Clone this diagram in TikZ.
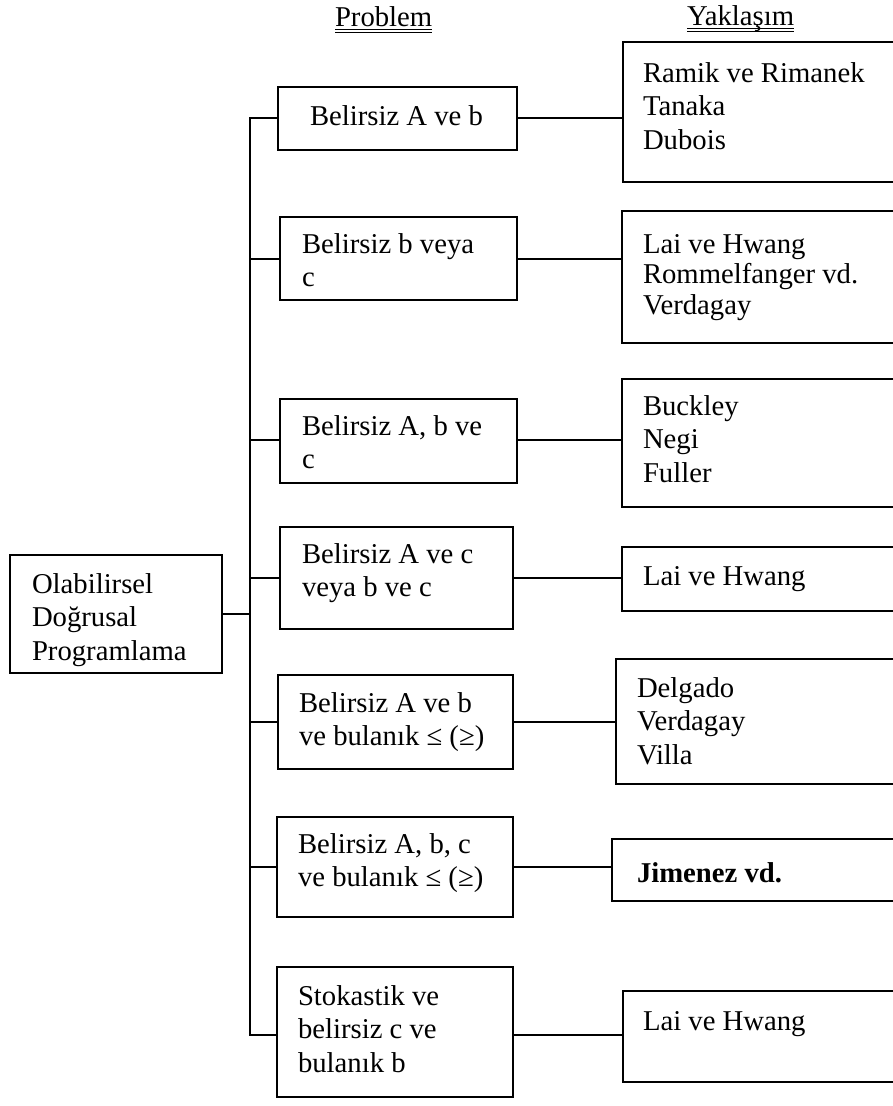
\documentclass[tikz,border=0pt]{standalone}
\usepackage{fontspec}
\setmainfont{Liberation Serif}
\usetikzlibrary{calc}
% several lines of text, baseline on the first line
\newcommand\txtlines[1]{\begin{tabular}[t]{@{}l@{}}#1\end{tabular}}
\begin{document}
\begin{tikzpicture}[x=1pt,y=-1pt,
  box/.style={draw, line width=2pt, inner sep=0pt, outer sep=0pt},
  txt/.style={anchor=base west, inner sep=0pt, outer sep=0pt,
    font=\fontsize{28.7}{33.5}\selectfont},
  wire/.style={line width=2pt},
  bus/.style={line width=2.8pt},
  uline/.style={line width=1pt}]
\useasboundingbox (0,0) rectangle (893,1106);
\clip (0,0) rectangle (893,1106);

% column headings
\node[txt] (hp) at (335,26) {Problem};
\node[txt] (hy) at (687,25) {Yaklaşım};
\foreach \h in {hp,hy}{
  \draw[uline] ($(\h.base west)+(0,3.3)$) -- ($(\h.base east)+(0,3.3)$);
  \draw[uline] ($(\h.base west)+(0,6.2)$) -- ($(\h.base east)+(0,6.2)$);
}

% root box
\node[box, minimum width=212, minimum height=118] (root) at (116,614) {};
\node[txt] (troot) at (32,593) {\txtlines{Olabilirsel\\ Doğrusal\\ Programlama}};

% problem boxes
\node[box, minimum width=239, minimum height=63]  (p1) at (397.5,118.5) {};
\node[box, minimum width=237, minimum height=83]  (p2) at (398.5,258.5) {};
\node[box, minimum width=237, minimum height=84]  (p3) at (398.5,441) {};
\node[box, minimum width=233, minimum height=102] (p4) at (396.5,578) {};
\node[box, minimum width=235, minimum height=94]  (p5) at (395.5,722) {};
\node[box, minimum width=236, minimum height=100] (p6) at (395,867) {};
\node[box, minimum width=236, minimum height=130] (p7) at (395,1032) {};

\node[txt] (t1) at (310,125) {Belirsiz A ve b};
\node[txt] (t2) at (302,253) {\txtlines{Belirsiz b veya\\ c}};
\node[txt] (t3) at (302,435) {\txtlines{Belirsiz A, b ve\\ c}};
\node[txt] (t4) at (302,563) {\txtlines{Belirsiz A ve c\\ veya b ve c}};
\node[txt] (t5) at (299,712) {\txtlines{Belirsiz A ve b\\ ve bulanık ≤ (≥)}};
\node[txt] (t6) at (298,853) {\txtlines{Belirsiz A, b, c\\ ve bulanık ≤ (≥)}};
\node[txt] (t7) at (298,1005) {\txtlines{Stokastik ve\\ belirsiz c ve\\ bulanık b}};

% approach boxes (running off the right edge)
\node[box, minimum width=287, minimum height=140] (r1) at (766.5,112) {};
\node[box, minimum width=288, minimum height=132] (r2) at (766,277) {};
\node[box, minimum width=288, minimum height=128] (r3) at (766,443) {};
\node[box, minimum width=288, minimum height=64]  (r4) at (766,579) {};
\node[box, minimum width=294, minimum height=125] (r5) at (763,721.5) {};
\node[box, minimum width=298, minimum height=62]  (r6) at (761,870) {};
\node[box, minimum width=287, minimum height=91]  (r7) at (766.5,1036.5) {};

\node[txt] (s1) at (643,82) {\txtlines{Ramik ve Rimanek\\ Tanaka\\ Dubois}};
\node[txt] (s2) at (643,253) {\fontsize{28.7}{30.7}\selectfont\txtlines{Lai ve Hwang\\ Rommelfanger vd.\\ Verdagay}};
\node[txt] (s3) at (643,415) {\txtlines{Buckley\\ Negi\\ Fuller}};
\node[txt] (s4) at (643,585) {Lai ve Hwang};
\node[txt] (s5) at (637,697) {\txtlines{Delgado\\ Verdagay\\ Villa}};
\node[txt] (s6) at (637,882) {\bfseries Jimenez vd.};
\node[txt] (s7) at (643,1030) {Lai ve Hwang};

% branch points on the bus
\coordinate (b1) at (250,118);
\coordinate (b2) at (250,259);
\coordinate (b3) at (250,440);
\coordinate (b4) at (250,578);
\coordinate (b5) at (250,722);
\coordinate (b6) at (250,867);
\coordinate (b7) at (250,1035);

% bus and branches
\draw[wire] (p1.west |- b1) -- (b1) -- (b7) -- (p7.west |- b7);
\draw[bus] (b1) -- (b7);
\draw[bus] (root.east) -- (root.east -| b1);
\foreach \i in {2,...,6}{
  \draw[wire] (b\i) -- (p\i.west |- b\i);
}
% problem to approach links
\foreach \i in {1,...,7}{
  \draw[wire] (p\i.east |- b\i) -- (r\i.west |- b\i);
}
\end{tikzpicture}
\end{document}
